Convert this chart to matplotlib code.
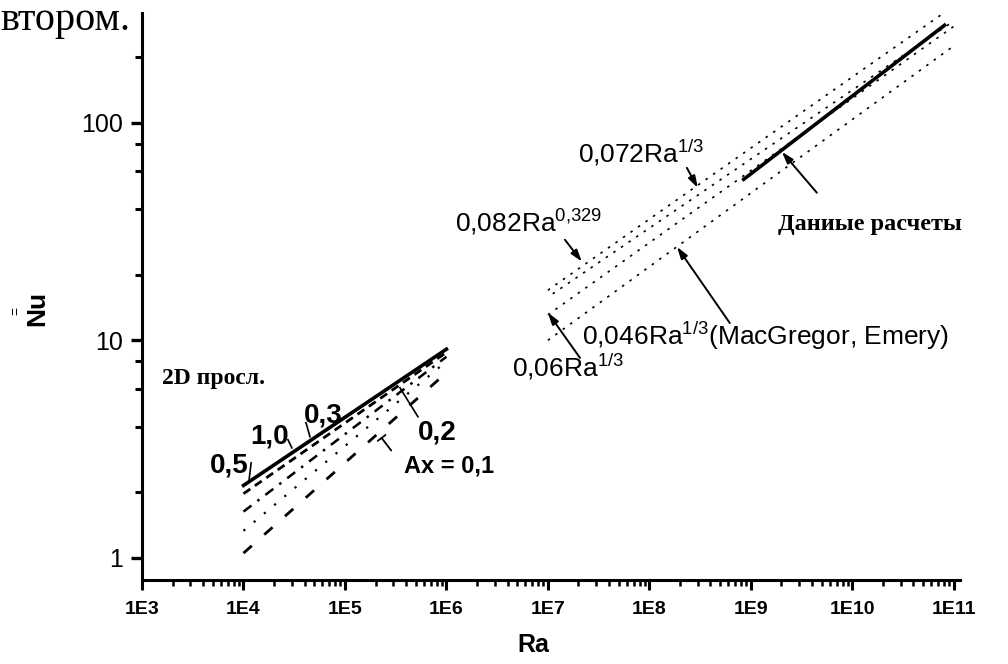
import numpy as np
import matplotlib
matplotlib.use("Agg")
import matplotlib.pyplot as plt
from matplotlib.ticker import FixedLocator, FixedFormatter, NullFormatter

plt.rcParams['font.family'] = ['Liberation Sans', 'DejaVu Sans']
plt.rcParams['mathtext.fontset'] = 'custom'
plt.rcParams['mathtext.rm'] = 'Liberation Sans'
plt.rcParams['mathtext.it'] = 'Liberation Sans'
plt.rcParams['mathtext.bf'] = 'Liberation Sans:bold'

# ── DATA ────────────────────────────────────────────────────
# 2D interlayer curves (Ra 1E4..1E6), one per aspect ratio Ax
ra_2d = [1e4, 1e6]
nu_ax05 = [2.15, 9.1]
nu_ax10 = [1.97, 8.8]
nu_ax03 = [1.63, 8.4]
nu_ax02 = [1.33, 8.0]
nu_ax01 = [1.05, 7.1]

# correlations (Ra 1E7..1E11)
ra_corr = [1e7, 1e11]
nu_082 = [17.0, 345.0]
nu_072 = [15.8, 294.0]
nu_060 = [13.1, 278.0]
nu_046 = [10.0, 226.0]

# own calculations
ra_calc = [8.5e8, 8.1e10]
nu_calc = [55.0, 281.0]

x_ticks = [1e3, 1e4, 1e5, 1e6, 1e7, 1e8, 1e9, 1e10, 1e11]
x_ticklabels = ['1E3', '1E4', '1E5', '1E6', '1E7', '1E8', '1E9', '1E10', '1E11']
y_ticks = [1, 10, 100]
y_ticklabels = ['1', '10', '100']

# ── FIGURE ──────────────────────────────────────────────────
fig = plt.figure(figsize=(10.08, 6.64), dpi=100)
ax = fig.add_axes([142 / 1008, 1 - 580 / 664, 818 / 1008, 567 / 664])
ax.set_xscale('log')
ax.set_yscale('log')
ax.set_xlim(1e3, 1.15e11)
ax.set_ylim(0.79, 320)

k = 'black'
ax.plot(ra_2d, nu_ax05, color=k, lw=2.6, ls='-')
ax.plot(ra_2d, nu_ax10, color=k, lw=2.0, ls=(0, (3, 2)))
ax.plot(ra_2d, nu_ax03, color=k, lw=1.8, ls=(0, (4, 3, 1, 3)))
ax.plot(ra_2d, nu_ax02, color=k, lw=1.6, ls=(0, (1, 5)))
ax.plot(ra_2d, nu_ax01, color=k, lw=2.0, ls=(0, (4, 6)))

ax.plot(ra_corr, nu_082, color=k, lw=1.2, ls=(0, (1.5, 4)))
ax.plot(ra_corr, nu_072, color=k, lw=1.2, ls=(2, (1.5, 4)))
ax.plot(ra_corr, nu_060, color=k, lw=1.2, ls=(0, (1.5, 4)))
ax.plot(ra_corr, nu_046, color=k, lw=1.2, ls=(0, (1.5, 4)))
ax.plot(ra_calc, nu_calc, color=k, lw=2.6, ls='-')

# ── AXES STYLE ──────────────────────────────────────────────
for s in ['top', 'right']:
    ax.spines[s].set_visible(False)
for s in ['left', 'bottom']:
    ax.spines[s].set_linewidth(2.2)

ax.xaxis.set_major_locator(FixedLocator(x_ticks))
ax.xaxis.set_major_formatter(FixedFormatter(x_ticklabels))
ax.xaxis.set_minor_locator(FixedLocator(
    [m * 10.0 ** e for e in range(3, 11) for m in range(2, 10)]))
ax.xaxis.set_minor_formatter(NullFormatter())
ax.yaxis.set_major_locator(FixedLocator(y_ticks))
ax.yaxis.set_major_formatter(FixedFormatter(y_ticklabels))
ax.yaxis.set_minor_locator(FixedLocator([2, 4, 6, 8, 20, 40, 60, 80, 200]))
ax.yaxis.set_minor_formatter(NullFormatter())

ax.tick_params(axis='x', which='major', direction='out', length=7, width=2.2,
               pad=8)
ax.tick_params(axis='x', which='minor', direction='out', length=4, width=1.8)
ax.tick_params(axis='y', which='major', direction='out', length=8, width=2.4,
               pad=6, labelsize=18)
ax.tick_params(axis='y', which='minor', direction='out', length=5, width=2.2)
for lab in ax.get_xticklabels():
    lab.set_fontweight('bold')
    lab.set_fontsize(14)
    lab.set_family(['Liberation Sans Narrow', 'Liberation Sans'])

fig.text(533 / 1008, 1 - 645 / 664, 'Ra', fontsize=18, fontweight='bold',
         ha='center', va='center')
fig.text(37 / 1008, 1 - 308 / 664, 'Nu', rotation=90, fontsize=19,
         fontweight='bold', ha='center', va='center')
fig.text(16 / 1008, 1 - 311 / 664, '=', rotation=90, fontsize=10,
         ha='center', va='center')

fig.text(0.0, 1 - 30 / 664, 'втором.', fontsize=29,
         family='Liberation Serif', ha='left', va='baseline')

# ── ANNOTATIONS: 2D group ───────────────────────────────────
bold = dict(fontsize=20, fontweight='bold', ha='center', va='center')
ax.text(7.2e3, 2.65, '0,5', **bold)
ax.text(1.82e4, 3.6, '1,0', **bold)
ax.text(6.1e4, 4.5, '0,3', **bold)
ax.text(8.2e5, 3.75, '0,2', **bold)
ax.text(1.06e6, 2.65, 'Ax = 0,1', fontsize=17, fontweight='bold',
        ha='center', va='center')
ax.text(5.1e3, 6.7, '2D просл.', fontsize=17, fontweight='bold',
        family='Liberation Serif', ha='center', va='center')

thin = dict(color=k, lw=1.2)
ax.plot([1.19e4, 1.13e4], [2.73, 2.24], **thin)
ax.plot([2.74e4, 3.0e4], [3.49, 3.2], **thin)
ax.plot([4.13e4, 4.52e4], [4.18, 3.6], **thin)
ax.plot([3.48e5, 5.24e5], [6.05, 4.45], **thin)
ax.annotate('', xy=(2.21e5, 3.64), xytext=(2.97e5, 3.04),
            arrowprops=dict(arrowstyle='-[, widthB=0.35, lengthB=0', lw=1.3))

# ── ANNOTATIONS: correlations ───────────────────────────────
reg = dict(fontsize=19, ha='left', va='baseline')
ax.text(1.98e7, 65.5, '0,072Ra$^{\\mathrm{1/3}}$', **reg)
ax.text(1.21e6, 31.5, '0,082Ra$^{\\mathrm{0{,}329}}$', **reg)
ax.text(2.16e7, 9.5, '0,046Ra$^{\\mathrm{1/3}}$(MacGregor, Emery)', **reg)
ax.text(4.4e6, 6.8, '0,06Ra$^{\\mathrm{1/3}}$', **reg)
ax.text(1.85e9, 32.2, 'Даниые расчеты', fontsize=17.5, fontweight='bold',
        family='Liberation Serif', ha='left', va='baseline')

arr = dict(arrowstyle='-|>, head_length=0.7, head_width=0.22', color=k, lw=1.4,
           shrinkA=0, shrinkB=0)
ax.annotate('', xy=(3.0e8, 50.2), xytext=(2.34e8, 62.1), arrowprops=arr)
ax.annotate('', xy=(2.16e7, 23.0), xytext=(1.47e7, 29.0), arrowprops=arr)
ax.annotate('', xy=(2.02e9, 73.6), xytext=(4.47e9, 47.7), arrowprops=arr)
ax.annotate('', xy=(1.87e8, 26.9), xytext=(6.2e8, 12.0), arrowprops=arr)
ax.annotate('', xy=(1.0e7, 13.4), xytext=(2.07e7, 8.3), arrowprops=arr)

fig.savefig('out.png', dpi=100)
